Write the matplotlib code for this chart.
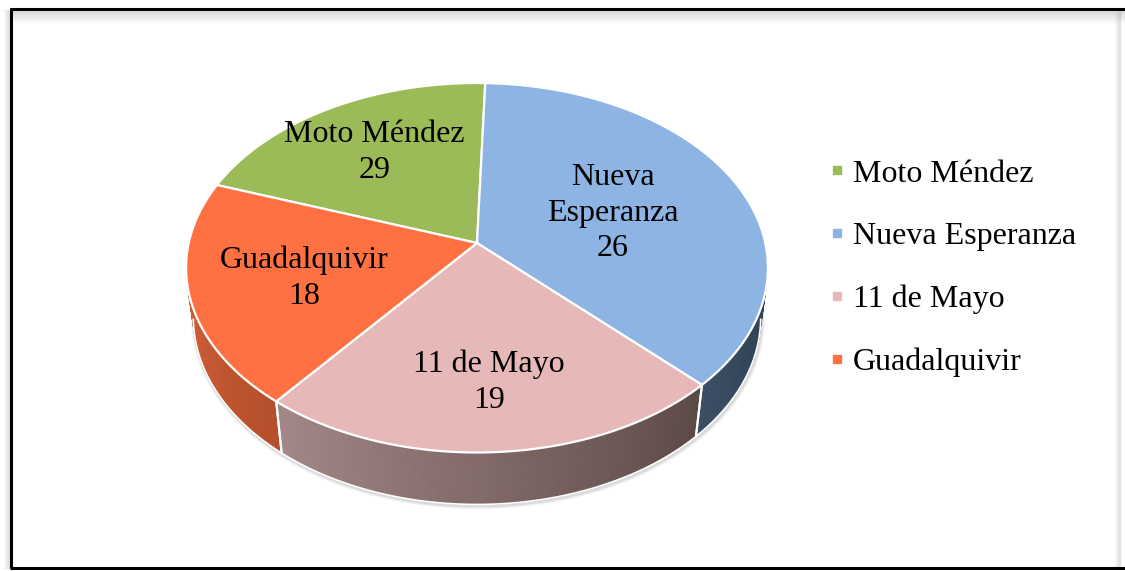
import numpy as np
import matplotlib

matplotlib.use("Agg")
import matplotlib.pyplot as plt  # noqa: E402
from matplotlib.colors import to_rgb  # noqa: E402
from matplotlib.lines import Line2D  # noqa: E402
from matplotlib.patches import Polygon  # noqa: E402

# --- data ---
names = ["Moto Méndez", "Nueva Esperanza", "11 de Mayo", "Guadalquivir"]
slice_share = [20.1, 37.0, 23.2, 19.7]  # % of the circle each slice covers, as drawn
shown_values = [29, 26, 19, 18]  # numbers printed in the data labels
label_names = ["Moto Méndez", "Nueva\nEsperanza", "11 de Mayo", "Guadalquivir"]

# --- style ---
top_colors = ["#9BBB59", "#8EB4E3", "#E6B9B8", "#FF7143"]
wall_colors = [("#7C9647", "#7C9647"), ("#3A4D63", "#2F4052"),
               ("#A38787", "#5A4845"), ("#CF5F37", "#B44E2B")]
label_r = [0.68, 0.52, 0.68, 0.61]
FIRST_ANGLE = 289.5  # clockwise from 12 o'clock
FONT = ["Liberation Serif", "DejaVu Serif"]
FS = 23

W, H = 1125, 571
CX, CY, F, D = 477, 243, 1672, 5.8
TILT = np.radians(39)
DEPTH = 0.23


def proj(theta_deg, r=1.0, z=0.0):
    """Perspective projection of a point on the pie (angle clockwise from back)."""
    th = np.radians(theta_deg)
    X = r * np.sin(th)
    Y = r * np.cos(th)
    v = Y * np.sin(TILT) + z * np.cos(TILT)
    w = Y * np.cos(TILT) - z * np.sin(TILT) + D
    return CX + F * X / w, CY - F * v / w


def mix(c0, c1, f):
    a, b = np.array(to_rgb(c0)), np.array(to_rgb(c1))
    return tuple(a + (b - a) * f)


fig = plt.figure(figsize=(W / 100, H / 100), dpi=100)
ax = fig.add_axes([0, 0, 1, 1])
ax.set_xlim(0, W)
ax.set_ylim(H, 0)
ax.axis("off")

shares = np.array(slice_share, dtype=float)
edges = FIRST_ANGLE + np.concatenate([[0], np.cumsum(shares / shares.sum() * 360)])
vis_cos = -1.0 / (D * np.cos(TILT))  # wall faces the camera where cos(theta) < this

# soft shadow under the front rim
th = np.linspace(95, 265, 200)
bx, by = proj(th, 1.0, -DEPTH)
for k, a in [(5, 0.06), (3.5, 0.1), (2, 0.15)]:
    ax.plot(bx + 1, by + 1.5, color="#808080", lw=k, alpha=a, solid_capstyle="round", zorder=1)

# side walls
for i in range(len(names)):
    th = np.linspace(edges[i], edges[i + 1], 240)
    th = th[np.cos(np.radians(th)) < vis_cos]
    if len(th) < 2:
        continue
    lo, hi = th.min(), th.max()
    right_c, left_c = wall_colors[i][1], wall_colors[i][0]
    for a0, a1 in zip(th[:-1], th[1:]):
        f = ((a0 + a1) / 2 - lo) / (hi - lo)
        col = mix(right_c, left_c, f)
        x0, y0 = proj(a0)
        x1, y1 = proj(a1)
        x2, y2 = proj(a1, 1.0, -DEPTH)
        x3, y3 = proj(a0, 1.0, -DEPTH)
        ax.add_patch(Polygon([(x0, y0), (x1, y1), (x2, y2), (x3, y3)], closed=True,
                             facecolor=col, edgecolor=col, lw=0.6, zorder=2))
    # white seam at slice boundaries on the wall
    for a in (edges[i], edges[i + 1]):
        if np.cos(np.radians(a)) < vis_cos:
            xa, ya = proj(a)
            xb, yb = proj(a, 1.0, -DEPTH)
            ax.plot([xa, xb], [ya, yb], color="white", lw=1.5, zorder=3)

# white rim at the bottom of the wall
th = np.linspace(98, 262, 200)
bx, by = proj(th, 1.0, -DEPTH)
ax.plot(bx, by, color="white", lw=1.2, zorder=3)

# top faces
for i in range(len(names)):
    th = np.linspace(edges[i], edges[i + 1], 200)
    px, py = proj(th)
    cx0, cy0 = proj(0, 0)
    pts = np.column_stack([np.r_[cx0, px], np.r_[cy0, py]])
    ax.add_patch(Polygon(pts, closed=True, facecolor=top_colors[i], edgecolor="white",
                         lw=1.6, joinstyle="round", zorder=4))

# data labels
for i in range(len(names)):
    mid = (edges[i] + edges[i + 1]) / 2
    lx, ly = proj(mid, label_r[i])
    ax.text(lx, ly + 4, f"{label_names[i]}\n{shown_values[i]}", ha="center", va="center",
            fontsize=FS, family=FONT, linespacing=1.3, zorder=5)

# legend
handles = [Line2D([], [], marker="s", ls="", color=c, markersize=6) for c in top_colors]
ax.legend(handles, names, loc="center left", bbox_to_anchor=(813 / W, 1 - 268 / H),
          frameon=False, prop={"family": FONT, "size": FS}, handlelength=0.5,
          handletextpad=0.25, labelspacing=1.04, borderpad=0)

# chart frame with inner shadow
for k in range(12):
    a = 0.22 * (1 - k / 12)
    ax.plot([12, W], [11 + k, 11 + k], color="#808080", lw=1, alpha=a, zorder=0)
for k in range(6):
    a = 0.2 * (1 - k / 6)
    ax.plot([1120 - k, 1120 - k], [12, 566], color="#808080", lw=1, alpha=a, zorder=0)
    ax.plot([9 - k, 9 - k], [10, 568], color="#808080", lw=1, alpha=a, zorder=0)
ax.plot([10.5, 10.5], [8, 568], color="black", lw=2.2, zorder=6, solid_capstyle="butt")
ax.plot([10, W], [8.5, 8.5], color="black", lw=2.2, zorder=6, solid_capstyle="butt")
ax.plot([10, W], [567.5, 567.5], color="black", lw=2.2, zorder=6, solid_capstyle="butt")

fig.savefig("out.png", dpi=100)
